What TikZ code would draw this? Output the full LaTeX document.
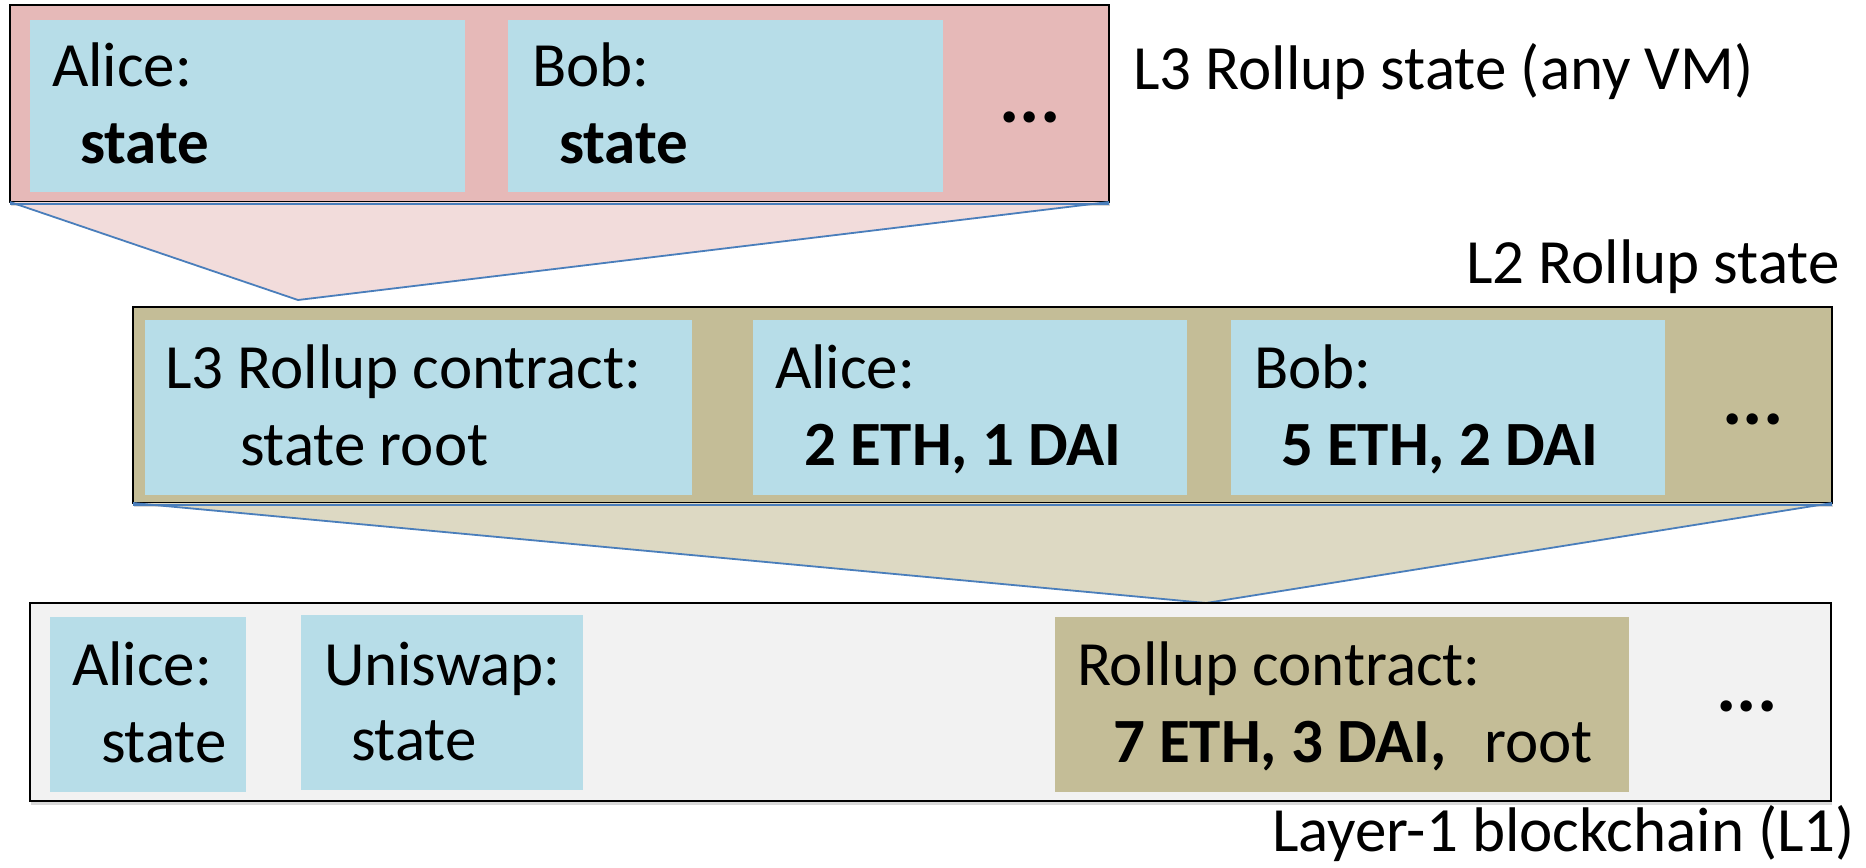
\documentclass[tikz,border=0pt]{standalone}
\usepackage{fontspec}
\setmainfont{Carlito}
\usetikzlibrary{shadows}
\definecolor{lthree}{HTML}{E6B9B8}
\definecolor{lthreefun}{HTML}{F2DCDB}
\definecolor{ltwo}{HTML}{C4BD97}
\definecolor{ltwofun}{HTML}{DDD9C3}
\definecolor{lone}{HTML}{F2F2F2}
\definecolor{acct}{HTML}{B7DDE8}
\definecolor{funedge}{HTML}{4A7EBB}
\tikzset{
  layerbox/.style={draw=black, line width=0.9pt, inner sep=0pt, outer sep=0pt, anchor=north west,
    drop shadow={shadow xshift=0.6pt, shadow yshift=-2.2pt, opacity=0.3}},
  acctbox/.style={fill=acct, inner sep=0pt, outer sep=0pt, anchor=north west},
  tanbox/.style={fill=ltwo, inner sep=0pt, outer sep=0pt, anchor=north west},
  funnel/.style={draw=funedge, line width=0.9pt, line join=miter},
  txt/.style={inner sep=0pt, outer sep=0pt, anchor=base west, font=\fontsize{31.5}{36}\selectfont},
  dots/.style={inner sep=0pt, outer sep=0pt, anchor=base, font=\fontsize{38}{40}\selectfont\bfseries}
}
\begin{document}
\begin{tikzpicture}[x=0.5pt,y=-0.5pt]
\useasboundingbox (0,0) rectangle (1866,867);
\fill[white] (0,0) rectangle (1866,867);

% ---------- L3 ----------
\node[layerbox, fill=lthree, minimum width=549.5pt, minimum height=98.5pt] (l3) at (10,5) {};
\node[acctbox, minimum width=217.5pt, minimum height=86pt] (l3a) at (30,20) {};
\node[acctbox, minimum width=217.5pt, minimum height=86pt] (l3b) at (508,20) {};
\node[txt] (l3at) at (52,86) {Alice:};
\node[txt] (l3as) at (80,163) {\textbf{state}};
\node[txt] (l3bt) at (532,86) {Bob:};
\node[txt] (l3bs) at (559,163) {\textbf{state}};
\node[dots] (l3d) at (1030,122) {...};
\node[txt] (l3lab) at (1133,89) {L3 Rollup state (any VM)};

\coordinate (apex3) at (298,300);
\fill[lthreefun] (l3.south west) -- (l3.south east) -- (apex3) -- cycle;
\draw[funnel] (l3.south west) -- (apex3) -- (l3.south east);
\draw[funnel] ([yshift=-0.9pt]l3.south west) -- ([yshift=-0.9pt]l3.south east);

% ---------- L2 ----------
\node[txt] (l2lab) at (1466,283) {L2 Rollup state};
\node[layerbox, fill=ltwo, minimum width=849.5pt, minimum height=98pt] (l2) at (133,307) {};
\node[acctbox, minimum width=273.5pt, minimum height=87.5pt] (l2c) at (145,320) {};
\node[acctbox, minimum width=217pt, minimum height=87.5pt] (l2a) at (753,320) {};
\node[acctbox, minimum width=217pt, minimum height=87.5pt] (l2b) at (1231,320) {};
\node[txt] (l2ct) at (165,388) {L3 Rollup contract:};
\node[txt] (l2cs) at (240,465) {state root};
\node[txt] (l2at) at (775,388) {Alice:};
\node[txt] (l2as) at (804,465) {\textbf{2 ETH, 1 DAI}};
\node[txt] (l2bt) at (1254,388) {Bob:};
\node[txt] (l2bs) at (1281,465) {\textbf{5 ETH, 2 DAI}};
\node[dots] (l2d) at (1753,424) {...};

\coordinate (apex2) at (1206,603);
\fill[ltwofun] (l2.south west) -- (l2.south east) -- (apex2) -- cycle;
\draw[funnel] (l2.south west) -- (apex2) -- (l2.south east);
\draw[funnel] ([yshift=-0.9pt]l2.south west) -- ([yshift=-0.9pt]l2.south east);

% ---------- L1 ----------
\node[layerbox, fill=lone, minimum width=900.5pt, minimum height=99pt] (l1) at (30,603) {};
\node[acctbox, minimum width=98pt, minimum height=87.5pt] (l1a) at (50,617) {};
\node[acctbox, minimum width=141pt, minimum height=87.5pt] (l1u) at (301,615) {};
\node[tanbox, minimum width=287pt, minimum height=87.5pt] (l1r) at (1055,617) {};
\node[txt] (l1at) at (72,685) {Alice:};
\node[txt] (l1as) at (101,762) {state};
\node[txt] (l1ut) at (324,685) {Uniswap:};
\node[txt] (l1us) at (351,760) {state};
\node[txt] (l1rt) at (1077,685) {Rollup contract:};
\node[txt] (l1rs) at (1113,762) {\textbf{7 ETH, 3 DAI,}};
\node[txt] (l1rr) at (1484,762) {root};
\node[dots] (l1d) at (1747,711) {...};
\node[txt] (l1lab) at (1272,851) {Layer-1 blockchain (L1)};
\end{tikzpicture}
\end{document}
